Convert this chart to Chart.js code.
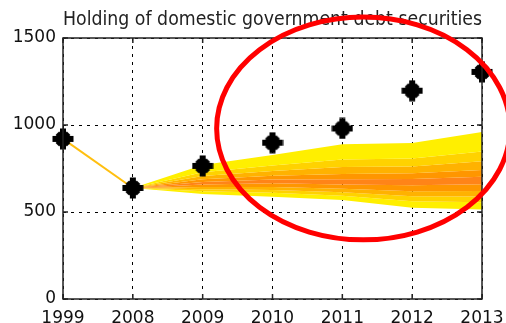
<!DOCTYPE html>
<html>
<head>
<meta charset="utf-8">
<script src="https://cdn.jsdelivr.net/npm/chart.js@4.4.1/dist/chart.umd.min.js"></script>
<style>
    html, body { margin: 0; padding: 0; background: #fff; }
    .wrap { width: 506px; height: 323px; }
</style>
</head>
<body>
<div class="wrap"><canvas id="debtChart" width="506" height="323"></canvas></div>
<script>
const years = ['1999', '2008', '2009', '2010', '2011', '2012', '2013']
const holdings = [920, 638, 765, 898, 980, 1197, 1305]
const history = [920, 638, null, null, null, null, null]

// fan bands, outer to inner
const hi90 = [null, 638, 770, 828, 890, 897, 960]
const hi70 = [null, 638, 728, 767, 802, 807, 848]
const hi50 = [null, 638, 707, 736, 758, 762, 792]
const hi30 = [null, 638, 688, 709, 718, 722, 742]
const hi10 = [null, 638, 673, 687, 688, 690, 702]
const lo10 = [null, 638, 658, 665, 658, 654, 660]
const lo30 = [null, 638, 643, 644, 634, 619, 621]
const lo50 = [null, 638, 631, 627, 614, 591, 589]
const lo70 = [null, 638, 619, 610, 594, 562, 556]
const lo90 = [null, 638, 603, 588, 569, 525, 515]

const yTicks = [0, 500, 1000, 1500]

const fanColors = ['#ffef00', '#ffd200', '#ffb200', '#ff9600', '#ff8418']

const band = (data, color, fill) => ({
    type: 'line',
    data: data,
    borderWidth: 0,
    pointRadius: 0,
    backgroundColor: color,
    fill: fill,
    tension: 0,
})

// thick asterisk used as the point marker
const makeStar = () => {
    const c = document.createElement('canvas')
    c.width = 22
    c.height = 22
    const g = c.getContext('2d')
    g.fillStyle = '#000'
    g.translate(11, 11)
    g.fillRect(-3, -10.5, 6, 21)
    g.fillRect(-10.5, -3, 21, 6)
    g.rotate(Math.PI / 4)
    g.fillRect(-2.5, -8, 5, 16)
    g.fillRect(-8, -2.5, 16, 5)
    return c
}

// box, inward ticks and the red ring
const framePlugin = {
    id: 'frame',
    afterDraw: (chart) => {
        const ctx = chart.ctx
        const area = chart.chartArea
        const x = chart.scales.x
        const y = chart.scales.y
        ctx.save()
        ctx.strokeStyle = '#222'
        ctx.lineWidth = 1.5
        ctx.strokeRect(area.left, area.top, area.right - area.left, area.bottom - area.top)
        ctx.beginPath()
        years.forEach((yr, i) => {
            const px = x.getPixelForValue(i)
            ctx.moveTo(px, area.bottom)
            ctx.lineTo(px, area.bottom - 5)
            ctx.moveTo(px, area.top)
            ctx.lineTo(px, area.top + 5)
        })
        yTicks.forEach((v) => {
            const py = y.getPixelForValue(v)
            ctx.moveTo(area.left, py)
            ctx.lineTo(area.left + 5, py)
            ctx.moveTo(area.right, py)
            ctx.lineTo(area.right - 5, py)
        })
        ctx.stroke()

        const cx = x.getPixelForValue(4.3)
        const cy = y.getPixelForValue(980)
        const rx = x.getPixelForValue(2.1) - x.getPixelForValue(0)
        const ry = y.getPixelForValue(0) - y.getPixelForValue(640)
        ctx.strokeStyle = '#ff0000'
        ctx.lineWidth = 5
        ctx.beginPath()
        ctx.ellipse(cx, cy, rx, ry, 0, 0, Math.PI * 2)
        ctx.stroke()
        ctx.restore()
    },
}

new Chart(document.getElementById('debtChart'), {
    data: {
        labels: years,
        datasets: [
            {
                type: 'line',
                data: holdings,
                showLine: false,
                pointStyle: makeStar(),
                pointRadius: 10,
            },
            {
                type: 'line',
                data: history,
                borderColor: '#ffbf10',
                borderWidth: 2,
                pointRadius: 0,
                fill: false,
            },
            band(hi90, fanColors[0], '+1'),
            band(hi70, fanColors[1], '+1'),
            band(hi50, fanColors[2], '+1'),
            band(hi30, fanColors[3], '+1'),
            band(hi10, fanColors[4], '+1'),
            band(lo10, fanColors[3], '+1'),
            band(lo30, fanColors[2], '+1'),
            band(lo50, fanColors[1], '+1'),
            band(lo70, fanColors[0], '+1'),
            band(lo90, fanColors[0], false),
        ],
    },
    options: {
        responsive: false,
        animation: false,
        layout: { padding: { left: 0, right: 24, top: 0, bottom: 0 } },
        plugins: {
            legend: { display: false },
            tooltip: { enabled: false },
            title: {
                display: true,
                fullSize: false,
                text: 'Holding of domestic government debt securities',
                color: '#222',
                font: { family: 'DejaVu Sans', size: 19, weight: 'normal', lineHeight: 1.25 },
                padding: { top: 8.5, bottom: 5.75 },
            },
        },
        scales: {
            x: {
                type: 'category',
                offset: false,
                z: 1,
                grid: {
                    color: '#000',
                    lineWidth: 1,
                    drawTicks: false,
                },
                border: { display: false, dash: [3, 5] },
                ticks: {
                    color: '#111',
                    padding: 9,
                    maxRotation: 0,
                    autoSkip: false,
                    font: { family: 'DejaVu Sans', size: 17 },
                },
                afterFit: (scale) => {
                    scale.height = 24
                    scale.paddingLeft = 0
                    scale.paddingRight = 0
                },
            },
            y: {
                min: 0,
                max: 1500,
                z: 1,
                afterBuildTicks: (scale) => { scale.ticks = yTicks.map((v) => ({ value: v })) },
                grid: {
                    color: '#000',
                    lineWidth: 1,
                    drawTicks: false,
                },
                border: { display: false, dash: [3, 5] },
                ticks: {
                    color: '#111',
                    padding: 7,
                    callback: (v) => String(v),
                    font: { family: 'DejaVu Sans', size: 17 },
                },
                afterFit: (scale) => {
                    scale.width = 63
                    scale.paddingTop = 0
                    scale.paddingBottom = 0
                },
            },
        },
    },
    plugins: [framePlugin],
})
</script>
</body>
</html>
